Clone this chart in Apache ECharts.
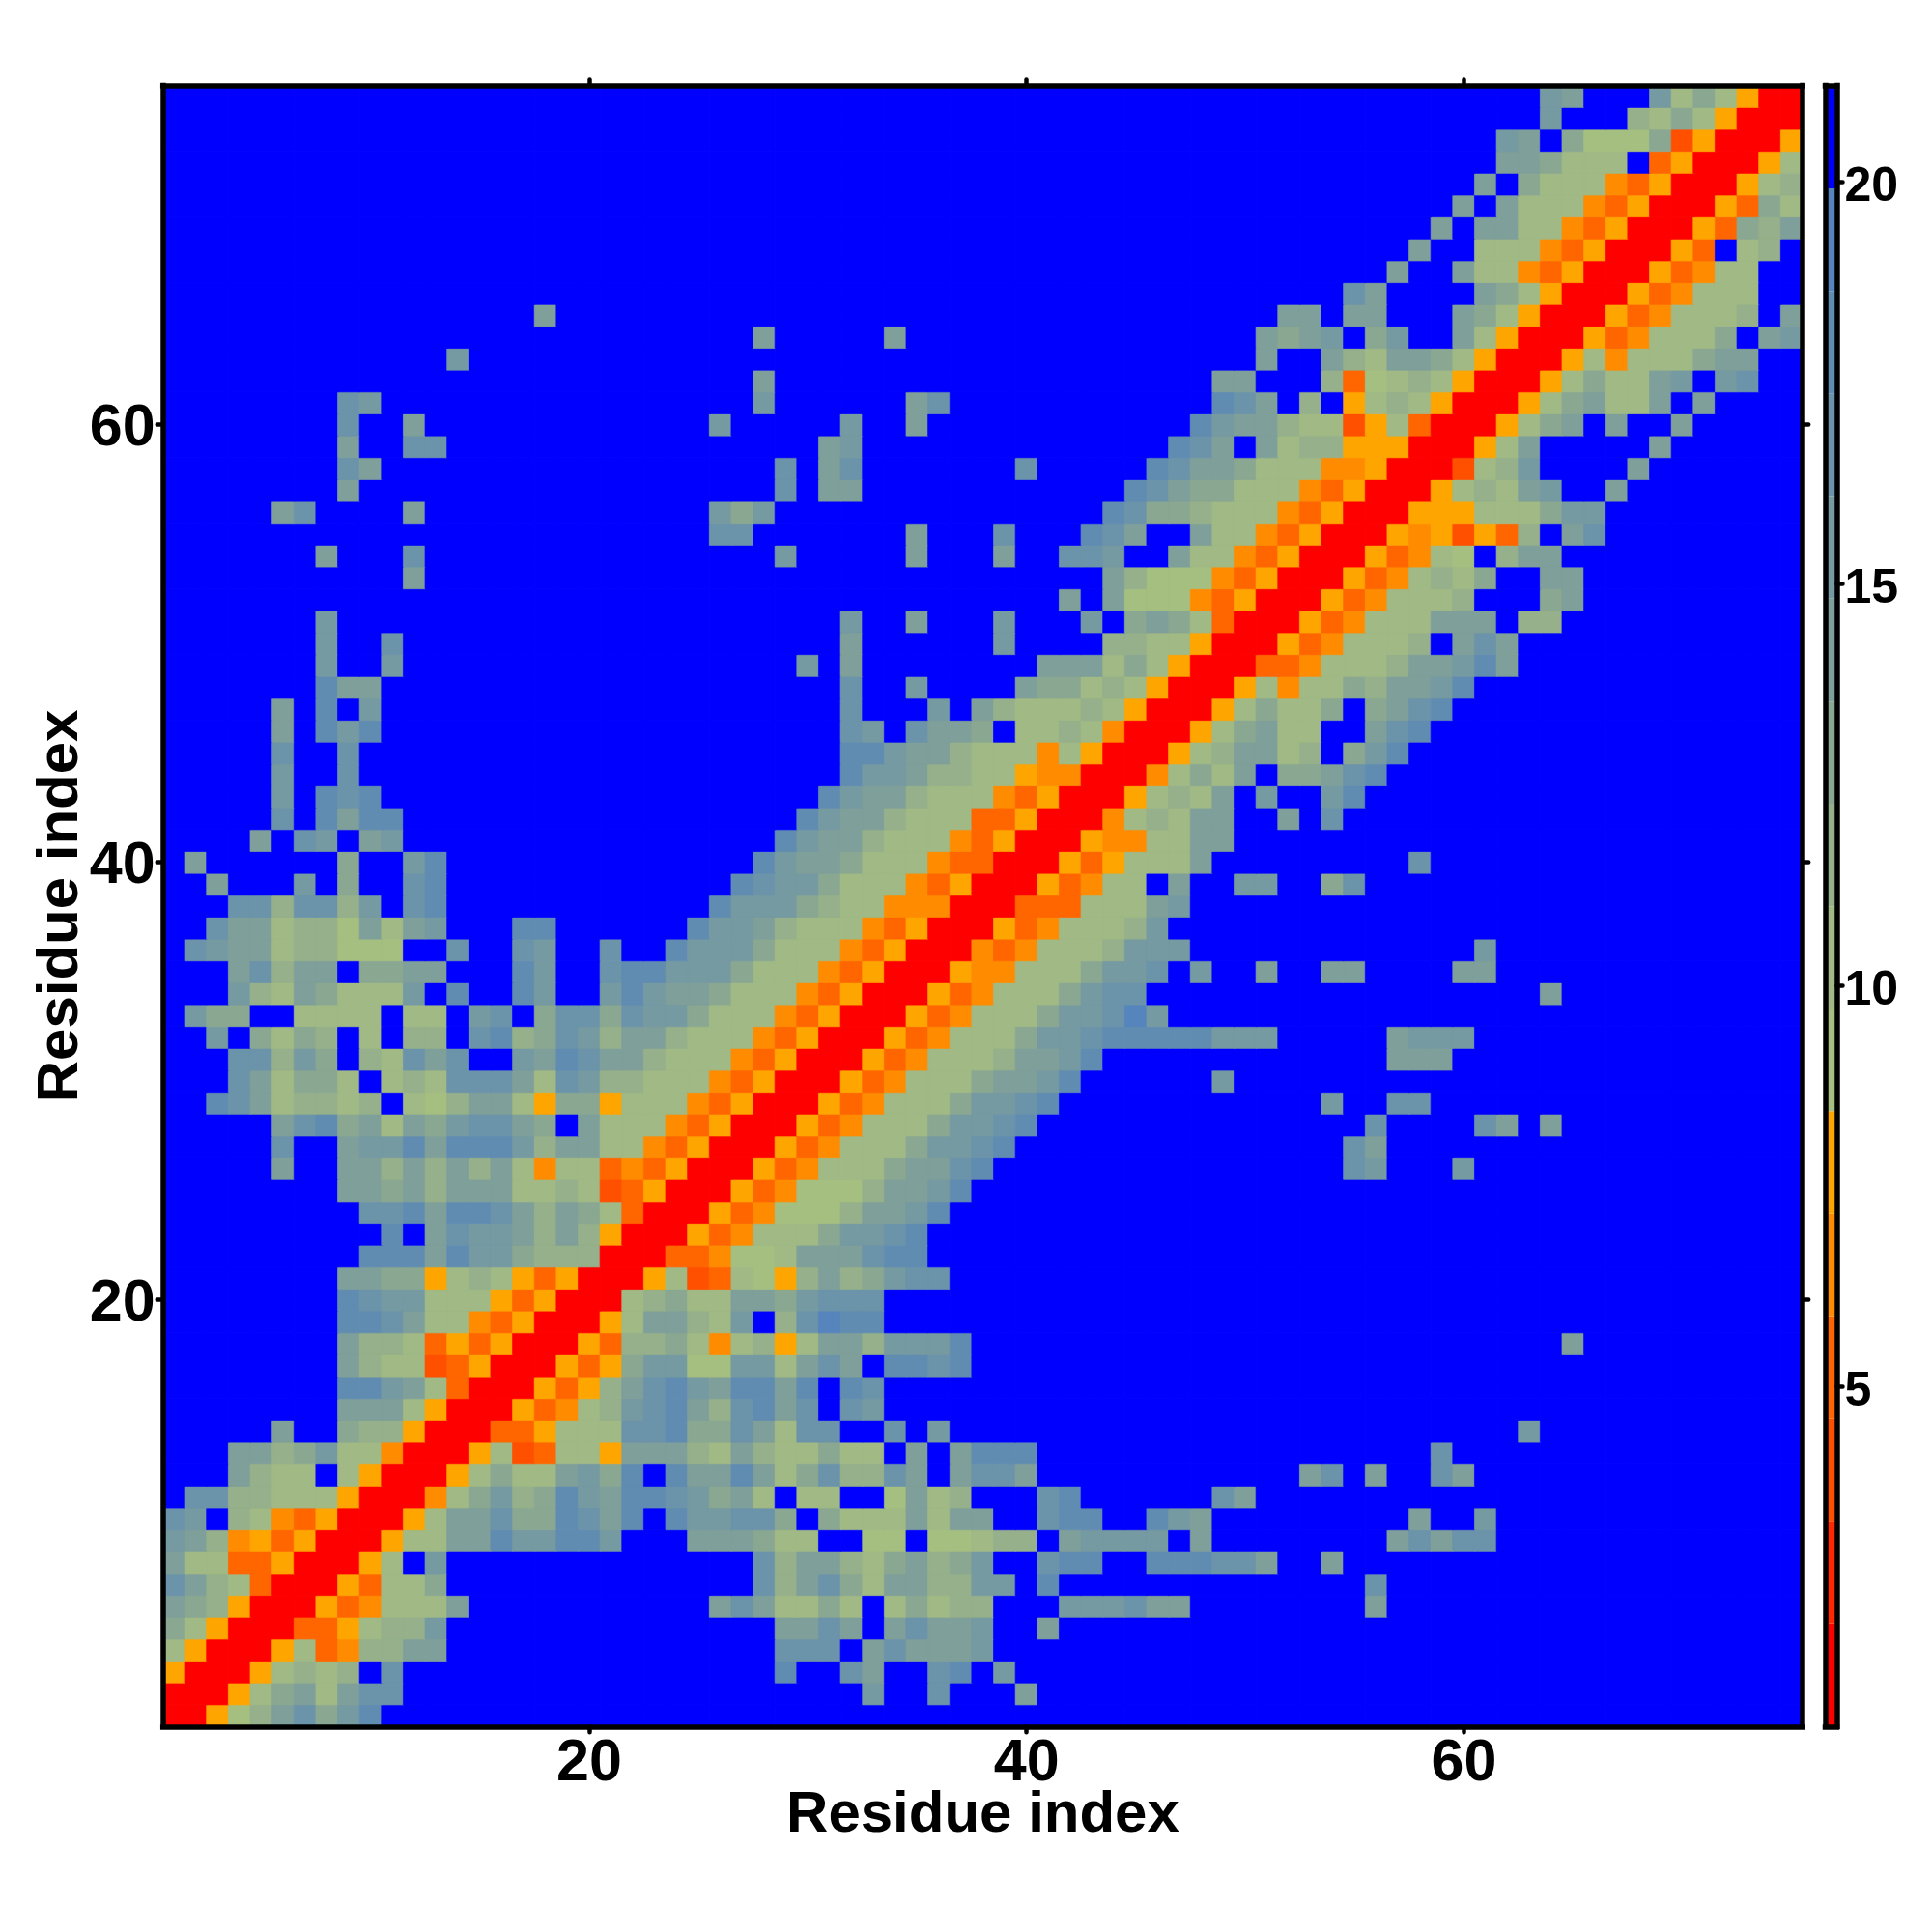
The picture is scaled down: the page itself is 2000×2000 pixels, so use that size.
<!DOCTYPE html>
<html><head><meta charset="utf-8">
<style>html,body{margin:0;padding:0;background:#fff}#c{width:2000px;height:2000px}</style>
<script src="https://cdn.jsdelivr.net/npm/echarts@6/dist/echarts.min.js"></script>
</head><body><div id="c"></div>
<script>
// Level of each colour band
const BIN_EDGES = [0.77,2.05,3.32,4.6,5.88,7.15,8.43,9.7,10.98,12.26,13.53,14.81,16.09,17.36,18.64,19.92,21.2];
const BIN_VALUES = [1.4,2.7,4.0,5.2,6.5,7.8,9.1,10.3,11.6,12.9,14.2,15.4,16.7,18.0,19.3,20.6];
const BIN_COLORS = ['#ff0000','#ff2800','#ff5000','#ff6600','#ff8c00','#ffa500','#a5bf80','#a0b985','#95b08a','#8aa792','#7f9f9a','#759aa2','#6b94aa','#618cb2','#5684bc','#0000ff'];
const TICKS = [20,40,60];
const BAR_TICKS = [5,10,15,20];
const RESIDUES = 75;
// One entry per row from residue 1 upward: "startColumn:bands" (hex band index, '.' = top band, unlisted cells too)
const ROWS = [
"1:00568ac9bd",
"1:000579a7acc 33:b 36:c 40:a",
"1:500057878.c 29:d 32:ca 36:cd 39:b",
"1:75000573488aa 29:ccc.acaaab",
"1:975000335788b 29:aaca.acaab 41:a",
"1:a985000534777a 26:aca7797.79788 42:bbbcaa 56:a",
"1:ca87300053779 28:c8ac97aa88bb.d 56:c",
"1:a7733500057.b 28:c8aa879a89b..cdd..dddcca 54:a",
"1:ba84535000577aadbbddb...aaa977..66.66788.abbbb.a 57:acacc",
"1:cb.8743500057aac99dcad.dbbcc9.9777a7aa..cdd..dba 58:a 61:b",
"1:.cc887775000479b89dbaddcb9a7.77..6a78...cd......ca",
"1:...a877.7500057977ab9d.daada79c88ca.acca 53:ac 56:a 59:ca",
"1:...aa89b7740005723775aaa87a877977.a.addd 59:c",
"1:.....a..9885000335777ccd99ca7cc..c.b 63:b",
"9:aaa7500053478bcda8cdac.cb",
"9:ddba730005358acdbaddad.dc",
"9:a8772350005359bb66bb7aca.ddcd",
"9:a887353500053889747857aa8bbbd 65:a",
"9:ddca7743500057aa87b.8cedd",
"9:dcbb77753500078977aa9bccc",
"9:aa99578753500057237658a89bcc",
"10:dddadbb9888000334667aaacdd",
"11:d.acbba8a850005347779bbcd",
"10:ccdaddca8a9730005346668aabd",
"9:aa9a8aaa77872350005346668aabd",
"6:a 9:aa8a8a8a747734350005347779aacd 55:cb 60:b",
"6:c 9:abbdadddb8aa774350005347779bbcd 55:ca",
"6:acd9a7a9bcca9.a7774350005347779bbcd 56:c 61:ca 64:a",
"3:dca78878.768aa759957774350005347779bbcd 54:b 57:cc",
"4:ca7997.787ccca7cb887774350005347779aabd 49:b",
"4:cc8b9.87cac..badcaa87774350005347778aabd 57:aaa",
"3:b.9798.7.88.cd89cb8aa87774350005347779bbcdddddbbb 57:abbb",
"2:b99..7777.77.bc.9cc9cbb97774350005347779bbceb",
"4:b87a9777b.d..db..bdbaa97774350005347779bcc 64:a",
"4:ac8aa.99aa...db..cddbbb97774350005447779bbc.b 51:a 54:aa 60:aa",
"2:cbaa788666..c..cb..c..dbbb97774350004347778bbb 61:b",
"3:caa7886a7ab...dd......dbba87774350005347778b",
"4:cc8cc8b.cd 26:dbbb9877444000333777ab",
"3:a 7:b 9:9 12:cd 27:dcbb977743500053477.a..bb 54:9c",
"2:a 9:9 12:bd 28:dbaa9777433000535777a 58:c",
"5:a 7:cb 10:ab 29:dbaa877743500054477aa",
"6:c 8:da 10:dd 30:dbaa87773350004787aa 52:a 54:c",
"6:b 8:dcd 31:dbaa87774350005787a.b 54:bd",
"6:b 9:c 32:dbba88775440004797a.99acd",
"6:c 9:c 32:ddbaa8777475000578aa78.9bd",
"6:a 8:dbd 32:cb.caa9.77874000579a77..acd",
"6:a 8:d 10:b 32:c...b.a8777875000579779.9acd",
"8:daa 32:c 35:b 40:a9978750005747798aabd",
"8:b 11:b 30:b 32:a 41:aaa79750003347778aabda",
"8:b 11:c 32:a 39:b 44:887750005347778.aca",
"8:b 32:b 35:a 39:b 43:b.9a973000534777aaa.88",
"42:a 44:a6664350005347778...9a",
"12:a 44:a86664350005347879..aa",
"8:a 12:c 29:b 35:a 39:a 42:ccb..a7743500053476.8aa",
"26:cc 35:a 39:c 43:dca..a774350005452538.ac",
"6:ac 12:a 26:b9b 44:dc9987774350005557779bb",
"9:a 29:c 31:aa 45:dca997774350005787ab..a",
"9:ca 29:c 31:ac 40:c 46:dcaa9777445000278b....a",
"9:a 12:cc 31:ab 47:dca.a78855500057a.....a",
"9:c 12:a 26:b 32:b 35:a 48:dbaa8772573000579a.a..a",
"9:cb 28:b 35:ac 49:dca.8.57875000579a77a.a",
"28:a 49:aa...836787500057977ab.bc",
"14:b 51:a..a87aa9750005747779aa",
"28:a 34:a 51:a9ab.9b..a750005347779.ab",
"18:a 52:aa.aa...a9750005347778.a",
"55:ca....a975000534777",
"57:a..a7743500053477",
"58:a..77743500053.78",
"59:a.aa774350005398a",
"60:a.a7774350005397",
"61:a.9777435000578",
"62:aa9777.3500057",
"62:ba.96669250005",
"64:b...87975000",
"64:ba...b797500"
];

const FONT = '"Liberation Sans", Arial, sans-serif';
const categories = [];
for (let i = 1; i <= RESIDUES; i++) categories.push(String(i));
const cells = [];
ROWS.forEach((row, r) => {
  const line = new Array(RESIDUES).fill(15);
  row.split(' ').forEach(seg => {
    const [start, bands] = seg.split(':');
    [...bands].forEach((ch, k) => {
      if (ch !== '.') line[+start - 1 + k] = parseInt(ch, 16);
    });
  });
  line.forEach((b, c) => cells.push({
    value: [c, r, BIN_VALUES[b]],
    itemStyle: { borderColor: BIN_COLORS[b], borderWidth: 0.7 }
  }));
});
const barData = BIN_COLORS.map((_, i) => [BIN_EDGES[i], BIN_EDGES[i + 1], i]);
const pieces = BIN_COLORS.map((color, i) => ({ gte: BIN_EDGES[i], lt: BIN_EDGES[i + 1], color }));

const isTick = (i, v) => TICKS.includes(+v);
const frame = { show: true, onZero: false, lineStyle: { color: '#000', width: 5.5, cap: 'square' } };
const tick = { show: true, alignWithLabel: true, interval: isTick, length: 6, lineStyle: { color: '#000', width: 4.5, cap: 'round' } };
const tickLabelX = { show: true, interval: isTick, margin: 8, fontFamily: FONT, fontWeight: 'bold', fontSize: 61, color: '#000' };
const tickLabelY = { show: true, interval: isTick, margin: 8, verticalAlign: 'top', lineHeight: 10, fontFamily: FONT, fontWeight: 'bold', fontSize: 61, color: '#000' };
const nameStyle = { fontFamily: FONT, fontWeight: 'bold', fontSize: 60, color: '#000' };

const chart = echarts.init(document.getElementById('c'), null, { renderer: 'canvas' });
chart.setOption({
  animation: false,
  backgroundColor: '#fff',
  grid: [
    { left: 168.7, top: 88.5, width: 1697.5, height: 1698.8 },
    { left: 1889.5, top: 88.5, width: 12, height: 1698.8 }
  ],
  xAxis: [
    { type: 'category', data: categories, gridIndex: 0, position: 'bottom', z: 5, axisLine: frame, axisTick: tick, axisLabel: tickLabelX, splitLine: { show: false },
      name: 'Residue index', nameLocation: 'middle', nameGap: 62.5, nameMoveOverlap: false, nameTextStyle: nameStyle },
    { type: 'category', data: categories, gridIndex: 0, position: 'top', z: 5, axisLine: frame, axisTick: tick, axisLabel: { show: false }, splitLine: { show: false } },
    { type: 'value', gridIndex: 1, min: 0, max: 1, position: 'bottom', z: 5, axisLine: frame, axisTick: { show: false }, axisLabel: { show: false }, splitLine: { show: false } },
    { type: 'value', gridIndex: 1, min: 0, max: 1, position: 'top', z: 5, axisLine: frame, axisTick: { show: false }, axisLabel: { show: false }, splitLine: { show: false } }
  ],
  yAxis: [
    { type: 'category', data: categories, gridIndex: 0, position: 'left', z: 5, axisLine: frame, axisTick: tick, axisLabel: tickLabelY, splitLine: { show: false },
      name: 'Residue index', nameLocation: 'middle', nameGap: 75, nameRotate: 90, nameMoveOverlap: false, nameTextStyle: nameStyle },
    { type: 'category', data: categories, gridIndex: 0, position: 'right', z: 5, axisLine: frame, axisTick: tick, axisLabel: { show: false }, splitLine: { show: false } },
    { type: 'value', gridIndex: 1, min: 0.77, max: 21.2, position: 'left', z: 5, axisLine: frame, axisTick: { show: false }, axisLabel: { show: false }, splitLine: { show: false } },
    { type: 'value', gridIndex: 1, min: 0.77, max: 21.2, position: 'right', z: 5, axisLine: frame, splitLine: { show: false },
      axisTick: { show: true, length: 6, customValues: BAR_TICKS, lineStyle: { color: '#000', width: 4.5, cap: 'round' } },
      axisLabel: { show: true, margin: 8, verticalAlign: 'top', lineHeight: 12, customValues: BAR_TICKS, fontFamily: FONT, fontWeight: 'bold', fontSize: 50, color: '#000' } }
  ],
  visualMap: { show: false, type: 'piecewise', seriesIndex: 0, dimension: 2, pieces },
  series: [
    { type: 'heatmap', xAxisIndex: 0, yAxisIndex: 0, data: cells, progressive: 0, animation: false, emphasis: { disabled: true } },
    { type: 'custom', xAxisIndex: 3, yAxisIndex: 3, data: barData, silent: true, encode: { y: [0, 1] },
      renderItem(params, api) {
        const a = api.coord([0, api.value(0)]);
        const b = api.coord([1, api.value(1)]);
        return { type: 'rect', shape: { x: a[0], y: b[1], width: b[0] - a[0], height: a[1] - b[1] }, style: { fill: BIN_COLORS[api.value(2)] } };
      } }
  ]
});
</script></body></html>
